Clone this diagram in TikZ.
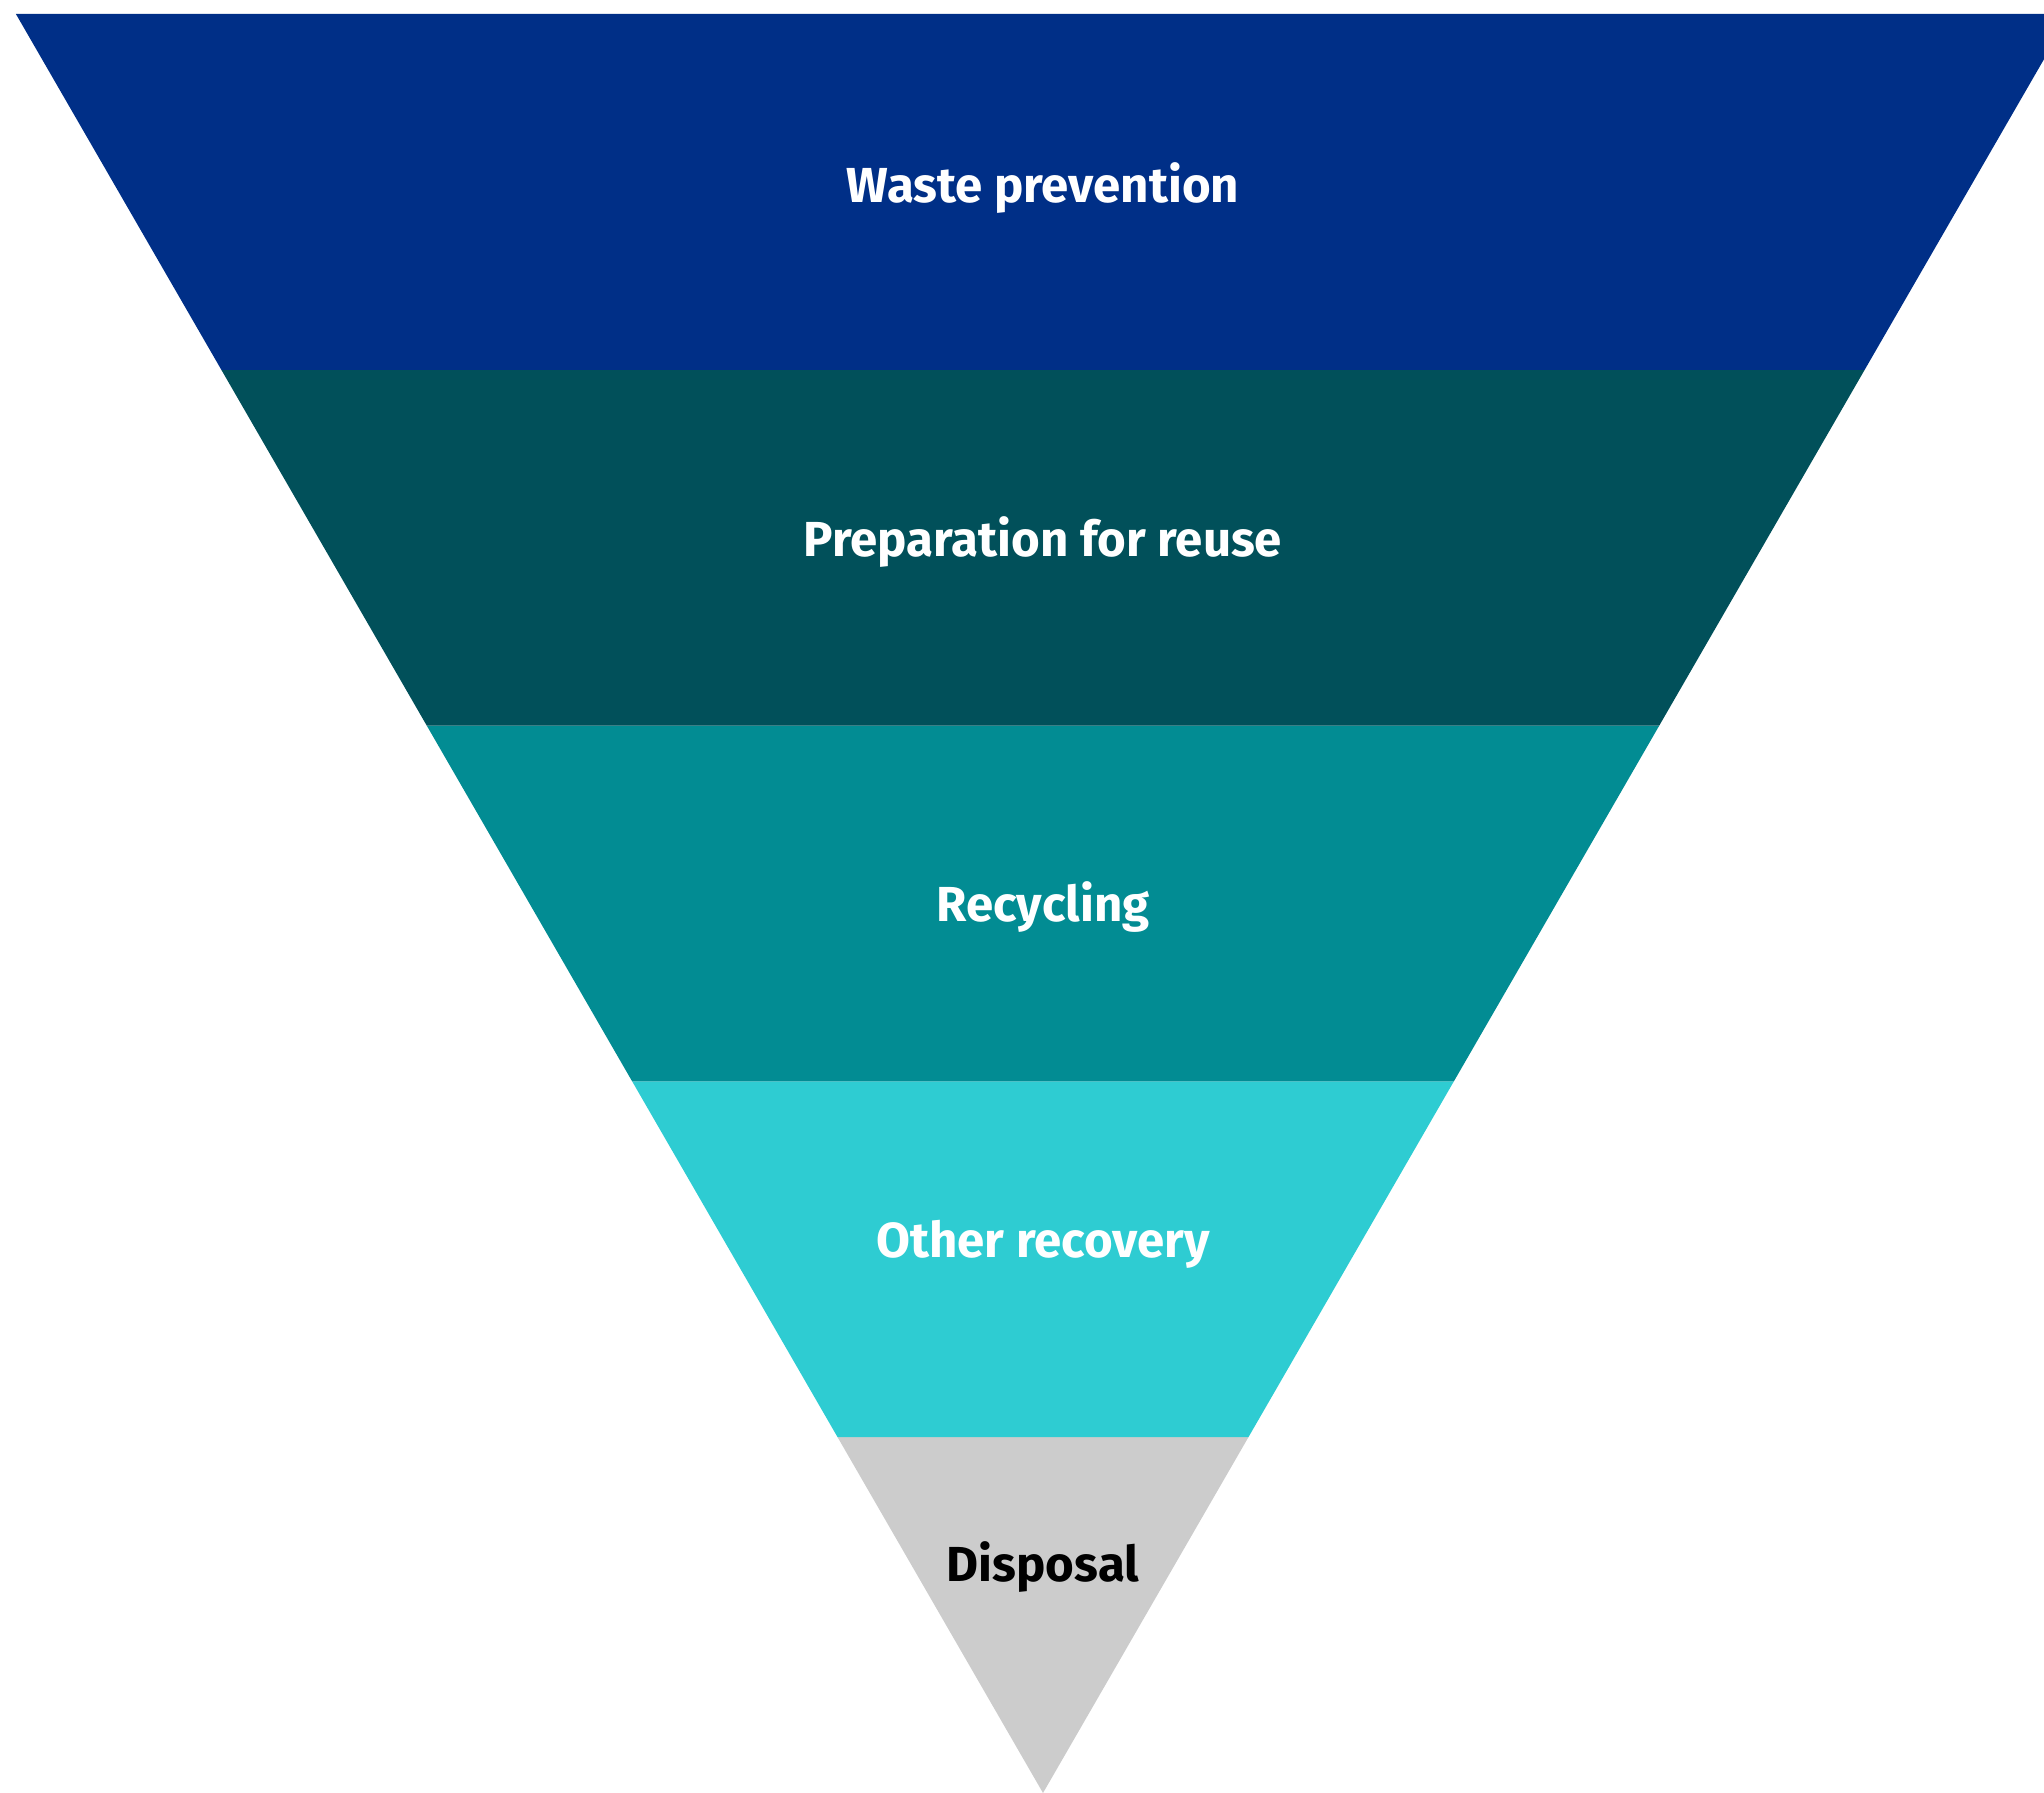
\documentclass[tikz,border=0pt]{standalone}
\usepackage{fontspec}
\setmainfont{Fira Sans}
\usepackage{tikz}

\definecolor{prevention}{RGB}{0,47,135}
\definecolor{reuse}{RGB}{1,80,90}
\definecolor{recycling}{RGB}{2,140,147}
\definecolor{recovery}{RGB}{46,204,210}
\definecolor{disposal}{RGB}{204,204,204}

\begin{document}
\begin{tikzpicture}[
		band/.style={draw=none},
		label/.style={anchor=base, font=\fontsize{14}{16}\selectfont\bfseries, text=white, inner sep=0pt}
		]
		\useasboundingbox (0,0) rectangle (20.44,17.93);
		
		% --- Bandas del embudo (de abajo hacia arriba) ---
		\def\h{3.558}
		\foreach \i/\col in {0/disposal, 1/recovery, 2/recycling, 3/reuse, 4/prevention} {
			\pgfmathsetmacro{\ylo}{\i*\h}
			\pgfmathsetmacro{\yhi}{(\i+1)*\h}
			\fill[band, \col] (10.43-\ylo*0.57735, \ylo) -- (10.43-\yhi*0.57735, \yhi)
				-- (10.43+\yhi*0.57735, \yhi) -- (10.43+\ylo*0.57735, \ylo) -- cycle;
		}
		
		% --- Etiquetas ---
		\node[label] (prev) at (10.43, 15.90) {Waste prevention};
		\node[label] (prep) at (10.43, 12.36) {Preparation for reuse};
		\node[label] (recy) at (10.43, 8.71) {Recycling};
		\node[label] (othr) at (10.43, 5.35) {Other recovery};
		\node[label, text=black] (disp) at (10.43, 2.11) {Disposal};
		
	\end{tikzpicture}
\end{document}
